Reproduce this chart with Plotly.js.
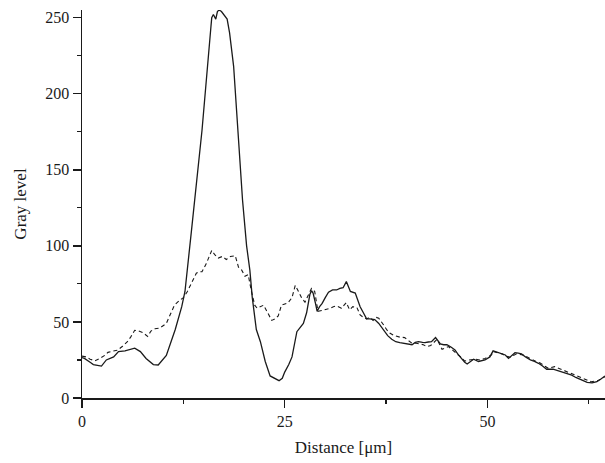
<!DOCTYPE html>
<html>
<head>
<meta charset="utf-8">
<script src="https://cdn.plot.ly/plotly-3.0.1.min.js"></script>
<style>html,body{margin:0;padding:0;background:#fff;}#chart{width:605px;height:463px;}</style>
</head>
<body>
<div id="chart"></div>
<script>
// Solid profile (distance µm, gray level)
const solidX = [0,0.3,1.0,1.4,2.4,3.0,3.9,4.5,5.3,6.5,7.2,7.9,8.8,9.4,10.4,11.5,12.3,12.7,13.5,14.8,15.9,16.0,16.2,16.5,16.7,16.9,17.2,17.6,17.9,18.2,18.7,19.3,19.8,20.3,20.7,21.0,21.3,21.5,22.0,22.6,23.2,23.8,24.3,24.7,25.0,25.5,25.9,26.5,27.0,27.3,27.7,28.1,28.3,28.5,28.8,29.0,29.3,29.6,30.0,30.4,30.9,31.4,31.8,32.2,32.6,33.1,33.7,34.3,34.7,35.1,35.5,36.1,36.6,37.2,37.7,38.2,38.7,39.2,39.8,40.3,40.7,41.1,41.5,42.0,42.3,42.7,43.1,43.6,44.2,44.6,45.0,45.5,46.0,46.4,46.8,47.2,47.5,47.9,48.3,48.9,49.3,49.7,50.3,50.7,51.0,51.4,51.8,52.2,52.6,53.0,53.4,53.8,54.2,54.7,55.3,55.8,56.3,56.8,57.3,58.1,58.7,59.4,60.0,60.4,60.9,61.4,61.9,62.3,62.9,63.5,64.0,64.5];
const solidY = [26.5,26,23.5,22,21,25,27,30.5,31,32.7,30.5,26,22,21.7,28,45,60,70,110,176,244,250,252,249,254,255,254,251,249,240,218,170,130,100,84,66,55,45,37,24,14.5,12.5,11.4,13,17,22,27,43.6,47,49,56,68,70.5,69,62,57,60,62,66,69.5,71,71,72,72.5,76.5,70,69,60,56,52,52,51.5,49,45,41,38.6,37,36.4,36,35.5,35,36.5,37,36.5,36.4,36.8,37,39.7,35.5,35,35,33.5,31.6,28.5,26,23.5,22.4,24,25.5,24,24.5,25,27,31,30.5,29.8,29,28.3,26,28,29.8,29.5,29,27,25,24,22.8,21,18.9,18.9,17.8,16.7,15.8,15,13.5,12.3,11,10.3,10,10.7,12.5,14.5];

// Dashed profile
const dashX = [0,0.5,1.0,1.6,2.2,2.8,3.2,3.8,4.4,5.0,5.6,6.0,6.5,7.0,7.5,8.1,8.5,9.0,9.6,10.0,10.4,10.9,11.4,12.0,12.5,13.0,13.5,14.1,14.5,14.8,15.3,16.0,16.4,16.8,17.3,17.8,18.3,18.9,19.3,19.7,20.1,20.5,20.9,21.3,21.6,22.0,22.4,22.9,23.4,23.8,24.2,24.6,25.0,25.4,25.9,26.3,26.7,27.1,27.5,27.9,28.3,28.7,29.1,29.6,30.0,30.6,31.0,31.4,32.0,32.6,33.0,33.4,33.9,34.3,34.7,35.1,35.5,35.9,36.3,36.6,37.2,37.6,38.0,38.5,39.2,39.8,40.2,40.7,41.2,41.7,42.1,42.5,43.0,43.3,43.8,44.4,45.2,45.7,46.2,46.7,47.2,47.7,48.5,49.1,49.7,50.1,50.5,50.7,51.2,51.8,52.3,52.8,53.2,53.6,54.4,55.0,55.5,56.0,56.5,57.0,57.5,58.3,59.0,59.6,60.2,60.8,61.3,61.8,62.3,62.8,63.2,63.6,64.0,64.5];
const dashY = [27.5,27,25.5,24.5,26,28,30,30.5,31.5,34,37,40,44.5,44,43,40.5,44,45.5,46,47.5,49,55,61,64,66,70,75,82,83,83,88,97,94,92,93,91,93,93.5,86,84,80,81,70,61,59,60,61,56,51,52,54,61,62,62.5,66,74,70,65.6,63,67,72,70,57,57.5,58,59,60,60.5,59,62.7,58,60,59.5,54.6,53,52,53,51,53,52.4,48,44.7,42.5,41,40,39.7,38,36,36,35.5,35,33.8,34.5,36,38.6,32,33.8,31.5,29.4,27,24.3,25,25.5,25,26,27,28.3,30.5,30,29,27.5,26.8,28,29,28.3,26.5,25,24,23,21,19.5,20.6,19,18,16.5,15,14,13,11.5,10.7,11,11.4,12.5,14];

const xTickVals = [0,25,50];
const yTickVals = [0,50,100,150,200,250];
const xTitle = 'Distance [μm]';
const yTitle = 'Gray level';

const FONT = 'Liberation Serif, Times New Roman, serif';
const ink = '#1a1a1a';

const traces = [
  {x: solidX, y: solidY, mode:'lines', line:{color:ink, width:1.3}, hoverinfo:'skip'},
  {x: dashX, y: dashY, mode:'lines', line:{color:ink, width:1.1, dash:'4px,3px'}, hoverinfo:'skip'}
];

const layout = {
  width:605, height:463,
  margin:{l:82, r:0, t:10, b:65},
  paper_bgcolor:'#fff', plot_bgcolor:'#fff',
  showlegend:false,
  font:{family:FONT, size:16, color:ink},
  xaxis:{
    range:[0,64.5], showgrid:false, zeroline:false,
    showline:true, linecolor:ink, linewidth:1.5,
    ticks:'outside', ticklen:8, tickwidth:1.5, tickcolor:ink,
    tickvals:xTickVals, ticktext:xTickVals.map(String),
    tickfont:{family:FONT, size:16, color:ink},
    minor:{ticks:'outside', ticklen:4, tickwidth:1.2, tickcolor:ink, dtick:12.5, tick0:0, showgrid:false},
    title:{text:xTitle, font:{family:FONT, size:17, color:ink}, standoff:12},
    automargin:false
  },
  yaxis:{
    range:[0,255], showgrid:false, zeroline:false,
    showline:true, linecolor:ink, linewidth:1.5,
    ticks:'outside', ticklen:8, tickwidth:1.5, tickcolor:ink,
    tickvals:yTickVals, ticktext:yTickVals.map(String),
    tickfont:{family:FONT, size:16, color:ink},
    minor:{ticks:'outside', ticklen:4, tickwidth:1.2, tickcolor:ink, dtick:25, tick0:0, showgrid:false},
    title:{text:yTitle, font:{family:FONT, size:17, color:ink}, standoff:14},
    automargin:false
  }
};

Plotly.newPlot('chart', traces, layout, {staticPlot:true, displayModeBar:false});
</script>
</body>
</html>
